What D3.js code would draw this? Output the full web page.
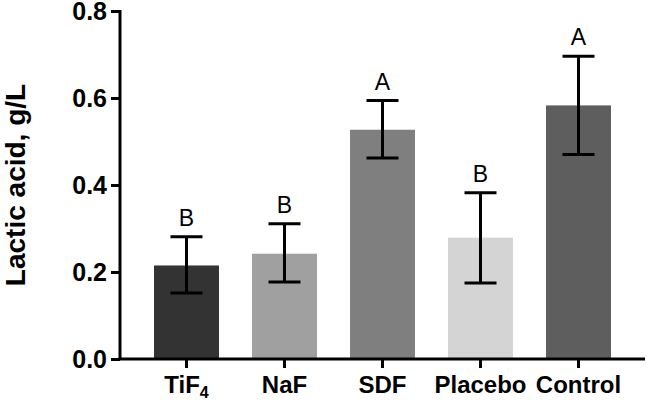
<!DOCTYPE html>
<head>
<meta charset="utf-8">
<style>
body { margin: 0; background: #fff; }
.axis path, .axis line { stroke: #000; stroke-width: 3px; }
.axis text { font-family: 'Liberation Sans', Arial, sans-serif; font-weight: bold; fill: #000; }
</style>
</head>
<body>
<div id="chart1"></div>
<script src="https://d3js.org/d3.v7.min.js"></script>
<script>

var groups = ["TiF4", "NaF", "SDF", "Placebo", "Control"];
var means = [0.215, 0.242, 0.527, 0.279, 0.583];
var errLow = [0.152, 0.177, 0.462, 0.175, 0.470];
var errHigh = [0.281, 0.311, 0.594, 0.382, 0.696];
var letters = ["B", "B", "A", "B", "A"];
var barColors = ["#333333", "#a0a0a0", "#7f7f7f", "#d4d4d4", "#5e5e5e"];
var yTicks = [0.0, 0.2, 0.4, 0.6, 0.8];

var width = 647, height = 402;
var margin = {top: 11, right: 2, bottom: 43, left: 120};

var svg = d3.select('#chart1')
  .append('svg')
    .attr('width', width)
    .attr('height', height);

var xScale = d3.scaleBand()
    .domain(groups)
    .range([margin.left, width - margin.right])
    .paddingInner(0.337)
    .paddingOuter(0.347);

var yScale = d3.scaleLinear()
    .domain([0, 0.8])
    .range([height - margin.bottom, margin.top]);

// bars
svg.selectAll(".bar")
  .data(groups)
  .enter().append("rect")
    .attr("class", "bar")
    .attr("x", function(d) { return xScale(d); })
    .attr("y", function(d, i) { return yScale(means[i]); })
    .attr("width", xScale.bandwidth())
    .attr("height", function(d, i) { return yScale(0) - yScale(means[i]); })
    .attr("fill", function(d, i) { return barColors[i]; });

// error bars
var capHalf = 16;
var err = svg.selectAll(".err")
  .data(groups)
  .enter().append("g")
    .attr("class", "err")
    .attr("stroke", "#000")
    .attr("stroke-width", 3);

err.append("line")
    .attr("x1", function(d) { return xScale(d) + xScale.bandwidth() / 2; })
    .attr("x2", function(d) { return xScale(d) + xScale.bandwidth() / 2; })
    .attr("y1", function(d, i) { return yScale(errLow[i]); })
    .attr("y2", function(d, i) { return yScale(errHigh[i]); });

err.append("line")
    .attr("x1", function(d) { return xScale(d) + xScale.bandwidth() / 2 - capHalf; })
    .attr("x2", function(d) { return xScale(d) + xScale.bandwidth() / 2 + capHalf; })
    .attr("y1", function(d, i) { return yScale(errHigh[i]); })
    .attr("y2", function(d, i) { return yScale(errHigh[i]); });

err.append("line")
    .attr("x1", function(d) { return xScale(d) + xScale.bandwidth() / 2 - capHalf; })
    .attr("x2", function(d) { return xScale(d) + xScale.bandwidth() / 2 + capHalf; })
    .attr("y1", function(d, i) { return yScale(errLow[i]); })
    .attr("y2", function(d, i) { return yScale(errLow[i]); });

// significance letters
svg.selectAll(".letter")
  .data(groups)
  .enter().append("text")
    .attr("class", "letter")
    .attr("x", function(d) { return xScale(d) + xScale.bandwidth() / 2; })
    .attr("y", function(d, i) { return yScale(errHigh[i]) - 11; })
    .attr("text-anchor", "middle")
    .attr("font-family", "'Liberation Sans', Arial, sans-serif")
    .attr("font-size", "23px")
    .text(function(d, i) { return letters[i]; });

// axes
var yAxis = d3.axisLeft(yScale)
    .tickValues(yTicks)
    .tickSize(9)
    .tickPadding(4)
    .tickFormat(d3.format(".1f"));

svg.append("g")
    .attr("class", "axis axis--y")
    .attr("transform", "translate(" + margin.left + ",0)")
    .style("font-size", "25px")
    .call(yAxis)
    .call(function(g) { g.select(".domain").attr("d", "M0," + (margin.top - 1) + "V" + yScale(0)); });

var xAxis = d3.axisBottom(xScale).tickSize(9).tickPadding(8).tickSizeOuter(0);

var gx = svg.append("g")
    .attr("class", "axis axis--x")
    .attr("transform", "translate(0," + yScale(0) + ")")
    .style("font-size", "24px")
    .call(xAxis);

gx.select(".domain").attr("d", "M" + (margin.left - 1.5) + ",0H" + (width - margin.right));

// subscript for TiF4
gx.selectAll(".tick text")
  .filter(function(d) { return d === "TiF4"; })
  .text(null)
  .call(function(t) {
    t.append("tspan").text("TiF");
    t.append("tspan").text("4").attr("font-size", "16px").attr("dy", "5px");
  });

svg.append("text")
    .attr("transform", "translate(" + 25 + "," + 185 + ") rotate(-90)")
    .attr("text-anchor", "middle")
    .attr("font-family", "'Liberation Sans', Arial, sans-serif")
    .attr("font-weight", "bold")
    .attr("font-size", "28px")
    .text("Lactic acid, g/L");

</script>
</body>
